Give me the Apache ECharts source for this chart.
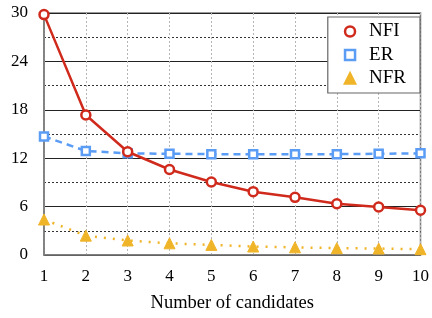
<!DOCTYPE html>
<html><head><meta charset="utf-8">
<script src="https://cdn.jsdelivr.net/npm/echarts@6/dist/echarts.min.js"></script>
<style>html,body{margin:0;padding:0;background:#fff}#c{width:432px;height:318px}</style>
</head><body><div id="c"></div>
<script>
const candidates = [1,2,3,4,5,6,7,8,9,10];
const nfi = [29.8,17.35,12.8,10.6,9.05,7.85,7.15,6.35,5.95,5.55];
const er  = [14.7,12.9,12.6,12.55,12.5,12.5,12.5,12.5,12.55,12.6];
const nfr = [4.4,2.4,1.8,1.45,1.25,1.05,0.95,0.85,0.8,0.72];
const yTicks = [0,6,12,18,24,30];
const xTitle = 'Number of candidates';

const font = 'Liberation Serif';
const pairs = a => candidates.map((c,i)=>[c,a[i]]);
const chart = echarts.init(document.getElementById('c'), null, {renderer:'canvas'});
chart.setOption({
  animation:false,
  textStyle:{fontFamily:font},
  grid:{left:44,right:8,top:13,bottom:63,show:true,borderColor:'#7a7a7a',borderWidth:1.5,backgroundColor:'transparent'},
  legend:{
    orient:'vertical', right:12, top:17, padding:[5,14,5,16],
    borderColor:'#666', borderWidth:1.2, backgroundColor:'#fff',
    itemWidth:10, itemHeight:10, itemGap:4.5,
    itemStyle:{borderWidth:2.5},
    textStyle:{fontFamily:font,fontSize:19,lineHeight:19,color:'#000',padding:[0,0,0,9]},
    data:[{name:'NFI',icon:'circle'},{name:'ER',icon:'rect'},{name:'NFR',icon:'triangle'}]
  },
  xAxis:{
    type:'value', min:1, max:10, interval:1,
    name:xTitle, nameLocation:'middle', nameGap:39,
    nameTextStyle:{fontFamily:font,fontSize:18.5,color:'#000'},
    axisLine:{show:true,lineStyle:{color:'#7a7a7a',width:1.5}},
    axisTick:{show:false},
    axisLabel:{fontFamily:font,fontSize:17,color:'#000',margin:13},
    splitLine:{show:true,lineStyle:{color:'#b5b5b5',type:[2,2],width:1}}
  },
  yAxis:{
    type:'value', min:yTicks[0], max:yTicks[yTicks.length-1], interval:6,
    axisLine:{show:true,lineStyle:{color:'#7a7a7a',width:1.5}},
    axisTick:{show:false},
    axisLabel:{fontFamily:font,fontSize:17,color:'#000',margin:16},
    splitLine:{show:true,lineStyle:{color:'#222',width:1}},
    minorTick:{show:false,splitNumber:2},
    minorSplitLine:{show:true,lineStyle:{color:'#333',type:[2,2],width:1}}
  },
  series:[
    {name:'NFR',type:'line',data:pairs(nfr),z:3,symbol:'triangle',symbolSize:11,
     itemStyle:{color:'#f0b429',borderColor:'#f0b429',borderWidth:1},
     lineStyle:{color:'#f0b429',width:2.5,type:[2,7]}},
    {name:'ER',type:'line',data:pairs(er),z:4,symbol:'rect',symbolSize:8,
     itemStyle:{color:'#fff',borderColor:'#5b9cf5',borderWidth:2.5},
     lineStyle:{color:'#5b9cf5',width:2.5,type:[7,5]}},
    {name:'NFI',type:'line',data:pairs(nfi),z:5,symbol:'circle',symbolSize:9,
     itemStyle:{color:'#fff',borderColor:'#d02a1c',borderWidth:2.5},
     lineStyle:{color:'#d02a1c',width:2.5}}
  ]
});
</script></body></html>
